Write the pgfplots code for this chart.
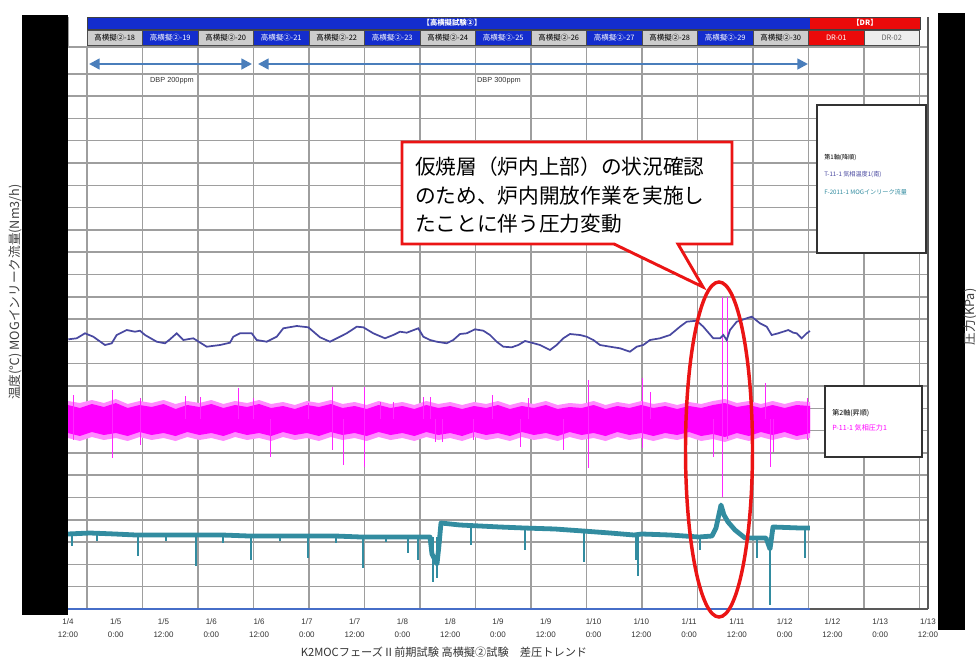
\documentclass[border=0pt]{standalone}
\usepackage{pgfplots}
\pgfplotsset{compat=1.18}
\usepackage{fontspec}
\setmainfont{Liberation Sans}
\newfontfamily\jp{Noto Sans CJK JP}
\usetikzlibrary{arrows.meta}
\definecolor{tempc}{RGB}{72,72,160}
\definecolor{teal2}{RGB}{50,140,160}
\definecolor{mag}{RGB}{255,0,255}
\definecolor{gridc}{RGB}{158,158,158}
\definecolor{hdrblue}{RGB}{20,45,205}
\definecolor{hdrred}{RGB}{235,10,10}
\definecolor{cellgrey}{RGB}{205,205,205}
\definecolor{cellwhite}{RGB}{238,238,238}
\definecolor{arrowc}{RGB}{74,126,187}
\definecolor{axisblue}{RGB}{70,110,200}
\definecolor{callred}{RGB}{235,20,20}

\begin{document}
\begin{tikzpicture}
\path[use as bounding box] (0,0) rectangle (732pt,-492.75pt);
\begin{axis}[
  at={(51pt,-456.75pt)}, anchor=south west,
  scale only axis, width=645pt, height=421.5pt,
  xmin=0, xmax=216, ymin=0, ymax=562,
  axis line style={draw=none},
  major tick length=0pt,
  xtick={0,12,...,216},
  xticklabels={{1/4\\12:00},{1/5\\0:00},{1/5\\12:00},{1/6\\0:00},{1/6\\12:00},{1/7\\0:00},{1/7\\12:00},{1/8\\0:00},{1/8\\12:00},{1/9\\0:00},{1/9\\12:00},{1/10\\0:00},{1/10\\12:00},{1/11\\0:00},{1/11\\12:00},{1/12\\0:00},{1/12\\12:00},{1/13\\0:00},{1/13\\12:00}},
  xticklabel style={font=\fontsize{6}{10}\selectfont, align=center, text=black!80, yshift=-3.5pt},
  extra x ticks={4.8,18.7,32.7,46.6,60.5,74.5,88.4,102.3,116.3,130.2,144.2,158.1,172.0,186.0,199.9,213.9},
  extra x tick labels={},
  extra x tick style={grid=major},
  ytick={0,22.3,...,540},
  yticklabels={},
  ymajorgrids,
  major grid style={gridc, line width=1.1pt},
  unbounded coords=jump,
]
% magenta band (P-11-1), halo then core
\addplot[draw=none, fill=mag!45] coordinates {
(0,208) (3,206) (6,209) (9,206) (12,210) (15,205) (18,208) (21,206) (24,209) (27,205) (30,208) (33,206) (36,209) (39,205) (42,208) (45,206) (48,209) (51,205) (54,207) (57,204) (60,208) (63,206) (66,209) (69,205) (72,207) (75,204) (78,208) (81,205) (84,207) (87,204) (90,208) (93,205) (96,207) (99,204) (102,207) (105,205) (108,208) (111,204) (114,207) (117,205) (120,208) (123,204) (126,206) (129,205) (132,208) (135,204) (138,207) (141,205) (144,208) (147,205) (150,207) (153,204) (156,207) (159,205) (162,208) (165,210) (168,206) (171,208) (174,205) (177,208) (180,205) (183,208) (186.4,207)
(186.4,171) (183,169) (180,172) (177,169) (174,172) (171,168) (168,171) (165,167) (162,170) (159,168) (156,172) (153,169) (150,171) (147,168) (144,171) (141,169) (138,172) (135,168) (132,171) (129,169) (126,172) (123,168) (120,171) (117,169) (114,172) (111,168) (108,171) (105,169) (102,172) (99,168) (96,171) (93,169) (90,172) (87,168) (84,171) (81,169) (78,172) (75,168) (72,171) (69,169) (66,172) (63,168) (60,171) (57,169) (54,172) (51,168) (48,171) (45,169) (42,172) (39,168) (36,171) (33,169) (30,172) (27,168) (24,171) (21,169) (18,172) (15,168) (12,171) (9,169) (6,172) (3,168) (0,171)
} -- cycle;
\addplot[draw=none, fill=mag] coordinates {
(0,204) (3,201) (6,205) (9,202) (12,206) (15,201) (18,204) (21,202) (24,205) (27,200) (30,204) (33,202) (36,205) (39,201) (42,204) (45,202) (48,205) (51,201) (54,203) (57,200) (60,204) (63,202) (66,205) (69,201) (72,203) (75,200) (78,204) (81,201) (84,203) (87,200) (90,204) (93,201) (96,203) (99,200) (102,203) (105,201) (108,204) (111,200) (114,203) (117,201) (120,204) (123,200) (126,202) (129,201) (132,204) (135,200) (138,203) (141,201) (144,204) (147,201) (150,203) (153,200) (156,203) (159,201) (162,204) (165,206) (168,202) (171,204) (174,201) (177,204) (180,201) (183,204) (186.4,203)
(186.4,176) (183,173) (180,177) (177,174) (174,177) (171,173) (168,176) (165,172) (162,175) (159,173) (156,177) (153,174) (150,176) (147,173) (144,176) (141,174) (138,177) (135,173) (132,176) (129,174) (126,177) (123,173) (120,176) (117,174) (114,177) (111,173) (108,176) (105,174) (102,177) (99,173) (96,176) (93,174) (90,177) (87,173) (84,176) (81,174) (78,177) (75,173) (72,176) (69,174) (66,177) (63,173) (60,176) (57,174) (54,177) (51,173) (48,176) (45,174) (42,177) (39,173) (36,176) (33,174) (30,177) (27,173) (24,176) (21,174) (18,177) (15,173) (12,176) (9,174) (6,177) (3,173) (0,176)
} -- cycle;
% magenta spikes
\addplot[mag!85, line width=0.6pt] coordinates {
(1.26,214) (1.26,169) (1.26,nan)
(11.05,219) (11.05,151) (11.05,nan)
(18.08,211) (18.08,164) (18.08,nan)
(29.39,213) (29.39,190) (29.39,nan)
(33.15,212) (33.15,190) (33.15,nan)
(42.70,221) (42.70,190) (42.70,nan)
(46.46,211) (46.46,190) (46.46,nan)
(50.73,190) (50.73,152) (50.73,nan)
(60.28,206) (60.28,190) (60.28,nan)
(66.31,222) (66.31,159) (66.31,nan)
(69.07,190) (69.07,144) (69.07,nan)
(74.34,222) (74.34,142) (74.34,nan)
(78.36,207) (78.36,190) (78.36,nan)
(81.63,207) (81.63,190) (81.63,nan)
(89.16,212) (89.16,190) (89.16,nan)
(90.92,212) (90.92,190) (90.92,nan)
(92.18,190) (92.18,167) (92.18,nan)
(93.94,190) (93.94,167) (93.94,nan)
(101.72,190) (101.72,169) (101.72,nan)
(106.49,214) (106.49,190) (106.49,nan)
(113.53,190) (113.53,162) (113.53,nan)
(115.53,211) (115.53,190) (115.53,nan)
(124.32,190) (124.32,159) (124.32,nan)
(130.60,229) (130.60,141) (130.60,nan)
(144.17,231) (144.17,161) (144.17,nan)
(146.18,217) (146.18,190) (146.18,nan)
(162.00,190) (162.00,152) (162.00,nan)
(164.26,312) (164.26,112) (164.26,nan)
(165.52,312) (165.52,170) (165.52,nan)
(171.30,216) (171.30,190) (171.30,nan)
(175.06,226) (175.06,190) (175.06,nan)
(176.32,190) (176.32,142) (176.32,nan)
(177.07,190) (177.07,157) (177.07,nan)
(185.60,211) (185.60,169)
};
% teal baseline (F-2011-1)
\addplot[teal2, line width=3.6pt, line join=round] coordinates {
(0,75) (5.53,76) (11.8,75) (17.08,74) (24.36,74) (31.65,74) (38.68,74) (45.46,73) (52.99,73) (59.78,73) (67.06,73) (73.59,72) (79.62,72) (85.14,72) (90.92,72) (91.42,55) (92.18,49) (92.68,45) (93.18,64) (93.68,86) (98.45,84) (108.5,82) (114.53,81) (122.31,80) (129.35,78) (136.13,76) (142.16,74) (144.17,75) (151.2,74) (158.48,72) (161.75,73) (162.75,81) (164.01,104) (164.76,94) (165.77,87) (167.53,79) (170.04,71) (172.55,71) (175.31,71) (176.32,60) (177.07,82) (183.85,81) (186.36,81)
};
% teal dips
\addplot[teal2, line width=1pt] coordinates {
(1.0,75) (1.0,63) (1.0,nan)
(7.28,76) (7.28,68) (7.28,nan)
(17.58,74) (17.58,53) (17.58,nan)
(24.61,74) (24.61,68) (24.61,nan)
(32.15,74) (32.15,43) (32.15,nan)
(38.93,74) (38.93,66) (38.93,nan)
(45.96,73) (45.96,49) (45.96,nan)
(53.25,73) (53.25,68) (53.25,nan)
(60.28,73) (60.28,51) (60.28,nan)
(67.31,73) (67.31,66) (67.31,nan)
(74.09,72) (74.09,41) (74.09,nan)
(79.87,72) (79.87,67) (79.87,nan)
(85.39,72) (85.39,56) (85.39,nan)
(87.91,72) (87.91,49) (87.91,nan)
(91.67,72) (91.67,27) (91.67,nan)
(92.68,72) (92.68,31) (92.68,nan)
(101.22,83) (101.22,64) (101.22,nan)
(114.78,81) (114.78,59) (114.78,nan)
(129.6,78) (129.6,47) (129.6,nan)
(142.66,74) (142.66,49) (142.66,nan)
(143.16,74) (143.16,33) (143.16,nan)
(158.73,72) (158.73,59) (158.73,nan)
(173.05,71) (173.05,51) (173.05,nan)
(176.32,71) (176.32,4) (176.32,nan)
(185.11,81) (185.11,51)
};
% temperature line (T-11-1)
\addplot[tempc, line width=1.3pt] coordinates {
(0.08,269.7) (2.19,270.7) (4.27,275.7) (6.35,272.3) (9.29,264) (10.98,265.7) (12.23,274) (14.74,279) (16.83,277.3) (18.08,278.3) (19.34,274) (22.28,267.3) (24.36,265.7) (25.62,269.7) (27.30,275.7) (28.96,269) (31.47,270.7) (34.84,262.3) (38.18,264) (40.69,266.3) (41.52,272.3) (43.20,275.7) (46.14,275.7) (47.39,269) (49.91,267.3) (52.42,272.3) (54.08,280.7) (57.44,283) (60.36,281.7) (63.29,271.7) (65.80,267.3) (67.49,270.7) (70.00,275.7) (72.51,282.3) (74.17,281.7) (76.68,275.7) (79.62,270.7) (81.70,274) (83.39,277.3) (85.07,276.3) (87.98,280.7) (89.24,272.3) (90.92,269) (92.60,267.3) (95.11,265.7) (96.77,269) (98.46,275) (100.14,275.7) (102.22,279.7) (104.31,278.3) (105.99,274) (107.67,267.3) (109.33,262.3) (111.44,261.7) (113.10,264) (114.78,268) (116.46,266.3) (118.55,264) (121.06,259) (122.74,264) (124.40,270.7) (126.08,275) (128.59,274) (130.28,272.3) (131.94,269) (133.62,264) (136.13,262.3) (138.64,260.7) (141.15,257.3) (142.84,262.3) (144.49,264) (146.18,269) (148.69,270.7) (151.20,274) (153.71,282.3) (155.39,287.3) (157.91,288.3) (159.56,282.3) (162.07,270.7) (163.76,270.7) (164.59,274) (165.44,269) (166.27,279) (167.95,287.3) (170.46,290.7) (171.72,292.3) (173.80,285.7) (175.49,282.3) (176.74,274) (178.40,275.7) (180.91,279) (182.17,276.3) (183.02,275.7) (184.27,270.7) (185.53,275.7) (186.36,278)
};
\end{axis}

\begin{scope}[x=0.75pt, y=-0.75pt]
% frame lines
\draw[gridc, line width=1.1pt] (68,47) -- (928,47);
\draw[axisblue, line width=1.2pt] (68,609) -- (810,609);
\draw[black!65, line width=1.2pt] (810,609) -- (928,609);
\draw[black!65, line width=1.2pt] (928,17) -- (928,609);
\draw[gridc, line width=0.6pt] (68,17) -- (68,47);
% header
\fill[hdrblue] (87,17) rectangle (810,29);
\fill[hdrred] (810,17) rectangle (920,29);
\draw[black!75, line width=0.6pt] (87,17) rectangle (920,29);
\node[text=white, font=\jp\bfseries\fontsize{5.5}{6}\selectfont] at (452,23) {【高横擬試験②】};
\node[text=white, font=\jp\bfseries\fontsize{5.5}{6}\selectfont] at (865,23) {【DR】};
\foreach \i/\t/\fc/\tc in {0/高横擬②-18/cellgrey/black,1/高横擬②-19/hdrblue/white,2/高横擬②-20/cellgrey/black,3/高横擬②-21/hdrblue/white,4/高横擬②-22/cellgrey/black,5/高横擬②-23/hdrblue/white,6/高横擬②-24/cellgrey/black,7/高横擬②-25/hdrblue/white,8/高横擬②-26/cellgrey/black,9/高横擬②-27/hdrblue/white,10/高横擬②-28/cellgrey/black,11/高横擬②-29/hdrblue/white,12/高横擬②-30/cellgrey/black,13/DR-01/hdrred/white,14/DR-02/cellwhite/black!60}{
  \draw[black!70, line width=0.5pt, fill=\fc] ({87+55.5*\i},30) rectangle ({87+55.5*(\i+1)},45);
  \node[text=\tc, font=\jp\fontsize{5.6}{6}\selectfont, inner sep=0pt] at ({87+55.5*(\i+0.5)},37.5) {\t};
}
% DBP arrows
\draw[arrowc, line width=1.9pt, {Triangle[length=8pt,width=8pt]}-{Triangle[length=8pt,width=8pt]}] (89,64) -- (252,64);
\draw[arrowc, line width=1.9pt, {Triangle[length=8pt,width=8pt]}-{Triangle[length=8pt,width=8pt]}] (258,64) -- (808,64);
\node[font=\fontsize{5.5}{6}\selectfont, text=black!80] at (172,81) {DBP 200ppm};
\node[font=\fontsize{5.5}{6}\selectfont, text=black!80] at (499,81) {DBP 300ppm};
% legend boxes
\draw[black!80, line width=1pt, fill=white] (817,105) rectangle (926,253);
\node[anchor=west, inner sep=0pt, font=\jp\fontsize{4.6}{5}\selectfont] at (824,158) {第1軸(降順)};
\node[anchor=west, inner sep=0pt, text=tempc, font=\jp\fontsize{4.6}{5}\selectfont] at (824,175) {T-11-1 気相温度1(南)};
\node[anchor=west, inner sep=0pt, text=teal2, font=\jp\fontsize{4.6}{5}\selectfont] at (824,192) {F-2011-1 MOGインリーク流量};
\draw[black!80, line width=1pt, fill=white] (825,386) rectangle (922,457);
\node[anchor=west, inner sep=0pt, font=\jp\fontsize{5.3}{6}\selectfont] at (832,413) {第2軸(昇順)};
\node[anchor=west, inner sep=0pt, text=mag, font=\jp\fontsize{5.3}{6}\selectfont] at (832,428) {P-11-1 気相圧力1};
% callout
\draw[callred, line width=2.2pt, fill=white, line join=miter] (402,142) -- (732,142) -- (732,244) -- (678,244) -- (703,287) -- (614,244) -- (402,244) -- cycle;
\node[anchor=west, inner sep=0pt, font=\jp\fontsize{15.5}{20}\selectfont] at (415,167) {仮焼層（炉内上部）の状況確認};
\node[anchor=west, inner sep=0pt, font=\jp\fontsize{15.5}{20}\selectfont] at (415,196) {のため、炉内開放作業を実施し};
\node[anchor=west, inner sep=0pt, font=\jp\fontsize{15.5}{20}\selectfont] at (415,224) {たことに伴う圧力変動};
% ellipse
\draw[callred, line width=2.6pt] (719,449.5) ellipse [x radius=33.5, y radius=167.5];
% black bars
\fill[black] (22,15) rectangle (68,615);
\fill[black] (938,13) rectangle (965,630);
% axis titles
\node[rotate=90, text=black!75, font=\jp\fontsize{9.5}{10}\selectfont] at (15,292) {温度(℃) MOGインリーク流量(Nm3/h)};
\node[rotate=90, text=black!75, font=\jp\fontsize{9.5}{10}\selectfont] at (970,317) {圧力(KPa)};
\node[text=black!80, font=\jp\fontsize{8.4}{9}\selectfont] at (444,652) {K2MOCフェーズⅡ前期試験 高横擬②試験　差圧トレンド};
\end{scope}
\end{tikzpicture}
\end{document}
